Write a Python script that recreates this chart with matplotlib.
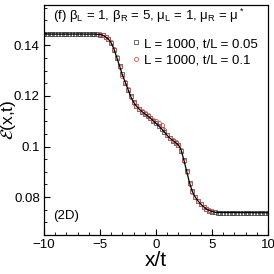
import numpy as np
import matplotlib.pyplot as plt
from matplotlib.ticker import MultipleLocator, FormatStrFormatter

plt.rcParams['font.family'] = ['Liberation Sans', 'DejaVu Sans']
plt.rcParams['mathtext.fontset'] = 'custom'
plt.rcParams['mathtext.rm'] = 'Liberation Sans'
plt.rcParams['mathtext.it'] = 'Liberation Sans:italic'

# theory curve
x_th = [-10.0, -5.5, -5.0, -4.75, -4.5, -4.25, -4.0, -3.75, -3.5, -3.25, -3.0,
        -2.75, -2.5, -2.25, -2.0, -1.75, -1.5, -1.25, -1.0, -0.75, -0.5, -0.25,
        0.0, 0.25, 0.5, 0.75, 1.0, 1.25, 1.5, 1.75, 2.0, 2.25, 2.5, 2.75, 3.0,
        3.25, 3.5, 3.75, 4.0, 4.25, 4.5, 4.75, 5.0, 5.25, 5.5, 10.0]
E_th = [0.1445, 0.1445, 0.1443, 0.1440, 0.1434, 0.1425, 0.1410, 0.1385, 0.1352,
        0.1318, 0.1283, 0.1255, 0.1226, 0.1197, 0.1175, 0.1160, 0.1148, 0.1138,
        0.1130, 0.1122, 0.1112, 0.1102, 0.1092, 0.1081, 0.1070, 0.1057, 0.1044,
        0.1033, 0.1024, 0.1016, 0.1007, 0.0985, 0.0945, 0.0900, 0.0855, 0.0822,
        0.0800, 0.0785, 0.0772, 0.0762, 0.0753, 0.0747, 0.0743, 0.0740, 0.0739,
        0.0738]

# L = 1000, t/L = 0.05 (black squares), x/t from -10 to 10
x_05 = np.arange(-10.0, 10.01, 0.25)
E_05 = [0.1445] * 20 + [
    0.1443, 0.1440, 0.1435, 0.1424, 0.1408, 0.1383, 0.1350, 0.1320, 0.1285,
    0.1253, 0.1224, 0.1199, 0.1177, 0.1161, 0.1147, 0.1137, 0.1129, 0.1121,
    0.1111, 0.1103, 0.1093, 0.1080, 0.1068, 0.1056, 0.1045, 0.1034, 0.1023,
    0.1015, 0.1005, 0.0983, 0.0947, 0.0902, 0.0857, 0.0824, 0.0801, 0.0786,
    0.0773, 0.0761, 0.0752, 0.0746, 0.0742] + [0.0740, 0.0739] + [0.0738] * 18

# L = 1000, t/L = 0.1 (red circles), x/t from -5 to 5
x_10 = np.arange(-5.0, 5.01, 0.25)
E_10 = [0.1444, 0.1441, 0.1433, 0.1426, 0.1412, 0.1387, 0.1354, 0.1316, 0.1281,
        0.1256, 0.1228, 0.1195, 0.1173, 0.1159, 0.1150, 0.1140, 0.1131, 0.1124,
        0.1114, 0.1106, 0.1100, 0.1094, 0.1084, 0.1064, 0.1047, 0.1035, 0.1025,
        0.1017, 0.1008, 0.0987, 0.0943, 0.0898, 0.0853, 0.0820, 0.0799, 0.0784,
        0.0771, 0.0762, 0.0754, 0.0748, 0.0744]

fig = plt.figure(figsize=(2.74, 2.74), dpi=100)
ax = fig.add_axes([0.1606, 0.1423, 0.8175, 0.8395])

ax.plot(x_05, E_05, 's', ms=2.2, mfc='none', mec='#333333', mew=0.5,
        label='L = 1000, t/L = 0.05')
ax.plot(x_10, E_10, 'o', ms=2.9, mfc='none', mec='#cc5555', mew=0.6,
        label='L = 1000, t/L = 0.1')
ax.plot(x_th, E_th, '-', color='black', lw=0.9)

ax.set_xlim(-10, 10)
ax.set_ylim(0.065, 0.156)
ax.xaxis.set_major_locator(MultipleLocator(5))
ax.xaxis.set_minor_locator(MultipleLocator(1))
ax.yaxis.set_major_locator(MultipleLocator(0.02))
ax.yaxis.set_minor_locator(MultipleLocator(0.005))
ax.yaxis.set_major_formatter(FormatStrFormatter('%g'))
ax.tick_params(which='both', direction='in', labelsize=9.5, pad=3)
ax.tick_params(which='major', length=4, width=0.8)
ax.tick_params(which='minor', length=2, width=0.6)
for s in ax.spines.values():
    s.set_linewidth(0.9)

ax.set_xlabel('x/t', fontsize=15, labelpad=0)
ax.set_ylabel(r'$\mathcal{E}$(x,t)', fontsize=12.5, math_fontfamily='stix')
ax.yaxis.set_label_coords(-0.118, 0.5)

ax.text(0.04, 0.99, r'(f) β$_\mathrm{L}$ = 1, β$_\mathrm{R}$ = 5, '
        r'μ$_\mathrm{L}$ = 1, μ$_\mathrm{R}$ = μ$^*$',
        transform=ax.transAxes, fontsize=9.5, va='top', ha='left')
ax.text(0.04, 0.055, '(2D)', transform=ax.transAxes, fontsize=9.5,
        va='bottom', ha='left')

ax.legend(loc='upper left', bbox_to_anchor=(0.37, 0.88), frameon=False,
          fontsize=9.5, handlelength=0.6, handletextpad=0.3,
          labelspacing=0.3, borderaxespad=0)

fig.savefig('out.png', dpi=100)
